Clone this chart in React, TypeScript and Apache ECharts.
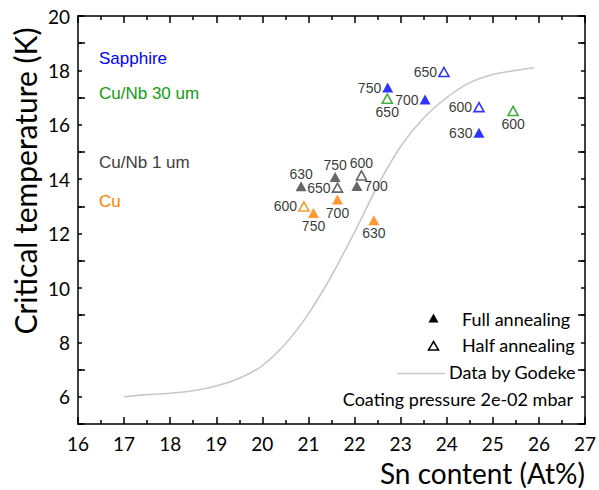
import React, { useEffect, useRef } from "react";
import * as echarts from "echarts";

// ---- Data ----
const xTicks = [16, 17, 18, 19, 20, 21, 22, 23, 24, 25, 26, 27];
const yTickLabels = [6, 8, 10, 12, 14, 16, 18, 20];

// Godeke reference curve (Sn at%, Tc K)
const godekeSn = [17.0, 17.5, 18.0, 18.5, 19.0, 19.5, 20.0, 20.5, 21.0, 21.5, 22.0, 22.5, 23.0, 23.5, 24.0, 24.5, 25.0, 25.5, 25.9];
const godekeTc = [6.0, 6.08, 6.13, 6.22, 6.4, 6.68, 7.15, 7.95, 9.05, 10.45, 12.05, 13.75, 15.2, 16.25, 17.0, 17.55, 17.85, 18.0, 18.1];

// Sapphire
const sapphireFullSn = [22.72, 23.53, 24.70];
const sapphireFullTc = [17.37, 16.93, 15.71];
const sapphireFullTemp = ["750", "700", "630"];
const sapphireHalfSn = [23.94, 24.70];
const sapphireHalfTc = [17.94, 16.65];
const sapphireHalfTemp = ["650", "600"];

// Cu/Nb 30 um
const cunb30HalfSn = [22.71, 25.44];
const cunb30HalfTc = [16.96, 16.51];
const cunb30HalfTemp = ["650", "600"];

// Cu/Nb 1 um
const cunb1FullSn = [20.84, 21.58, 22.05];
const cunb1FullTc = [13.74, 14.08, 13.75];
const cunb1FullTemp = ["630", "750", "700"];
const cunb1HalfSn = [21.63, 22.15];
const cunb1HalfTc = [13.69, 14.14];
const cunb1HalfTemp = ["650", "600"];

// Cu
const cuFullSn = [21.11, 21.63, 22.42];
const cuFullTc = [12.755, 13.25, 12.49];
const cuFullTemp = ["750", "700", "630"];
const cuHalfSn = [20.9];
const cuHalfTc = [13.0];
const cuHalfTemp = ["600"];

// label placement (style, kept separate)
const sapphireFullPos = ["left", "left", "left"];
const sapphireHalfPos = ["left", "left"];
const cunb30HalfPos = ["bottom", "bottom"];
const cunb1FullPos = ["top", "top", "right"];
const cunb1HalfPos = ["left", "top"];
const cuFullPos = ["bottom", "bottom", "bottom"];
const cuHalfPos = ["left"];

const BLUE = "#0000ff";
const GREEN = "#139b13";
const GRAY = "#404040";
const ORANGE = "#ff8000";

const LABEL_FONT = "'Liberation Sans', Arial, sans-serif";
const AXIS_FONT = "Lato, 'Open Sans', sans-serif";

function buildPoints(sn: number[], tc: number[], temp: string[], pos: string[]) {
  return sn.map((x, i) => ({
    value: [x, tc[i]],
    name: temp[i],
    label: { position: pos[i], distance: pos[i] === "top" ? 0 : pos[i] === "right" ? 2 : 1 },
  }));
}

function markerSeries(
  name: string,
  sn: number[],
  tc: number[],
  temp: string[],
  pos: string[],
  color: string,
  hollow: boolean
) {
  return {
    name,
    type: "scatter",
    xAxisIndex: 0,
    yAxisIndex: 0,
    symbol: "triangle",
    symbolSize: hollow ? [10, 9] : [11, 10],
    itemStyle: hollow
      ? { color: "#ffffff", borderColor: color, borderWidth: 1.6 }
      : { color: color, borderWidth: 0 },
    label: {
      show: true,
      formatter: "{b}",
      color: "#000",
      fontFamily: LABEL_FONT,
      fontSize: 14,
    },
    z: 5,
    data: buildPoints(sn, tc, temp, pos),
  };
}

export default function App() {
  const ref = useRef<HTMLDivElement>(null);

  useEffect(() => {
    if (!ref.current) return;
    const chart = echarts.init(ref.current, undefined, { renderer: "svg" });

    const axisLine = { show: true, lineStyle: { color: "#000", width: 1.5 } };

    const option: any = {
      animation: false,
      backgroundColor: "#ffffff",
      grid: { left: 78, right: 12, top: 16, bottom: 66, containLabel: false },
      xAxis: [
        {
          type: "value",
          position: "bottom",
          min: 16,
          max: 27,
          interval: 1,
          axisLine,
          axisTick: { show: true, inside: true, length: 7, lineStyle: { color: "#000", width: 1.5 } },
          minorTick: { show: true, splitNumber: 2, length: 4, lineStyle: { color: "#000", width: 1.5 } },
          splitLine: { show: false },
          minorSplitLine: { show: false },
          axisLabel: {
            show: true,
            margin: 10,
            color: "#000",
            fontFamily: AXIS_FONT,
            fontSize: 19,
            formatter: (v: number) => (xTicks.includes(v) ? String(v) : ""),
          },
        },
        {
          type: "value",
          position: "top",
          min: 16,
          max: 27,
          interval: 1,
          axisLine,
          axisTick: { show: true, inside: true, length: 7, lineStyle: { color: "#000", width: 1.5 } },
          minorTick: { show: true, splitNumber: 2, length: 4, lineStyle: { color: "#000", width: 1.5 } },
          splitLine: { show: false },
          axisLabel: { show: false },
        },
      ],
      yAxis: [
        {
          type: "value",
          position: "left",
          min: 5,
          max: 20,
          interval: 1,
          axisLine,
          axisTick: { show: true, inside: true, length: 4, lineStyle: { color: "#000", width: 1.5 } },
          splitLine: { show: false },
          axisLabel: {
            show: true,
            margin: 8,
            color: "#000",
            fontFamily: AXIS_FONT,
            fontSize: 19,
            formatter: (v: number) => (yTickLabels.includes(v) ? String(v) : ""),
          },
        },
        {
          type: "value",
          position: "left",
          min: 5,
          max: 20,
          interval: 2,
          axisLine: { show: false },
          axisTick: { show: true, inside: true, length: 7, lineStyle: { color: "#000", width: 1.5 } },
          splitLine: { show: false },
          axisLabel: { show: false },
        },
        {
          type: "value",
          position: "right",
          min: 5,
          max: 20,
          interval: 1,
          axisLine,
          axisTick: { show: true, inside: true, length: 4, lineStyle: { color: "#000", width: 1.5 } },
          splitLine: { show: false },
          axisLabel: { show: false },
        },
        {
          type: "value",
          position: "right",
          min: 5,
          max: 20,
          interval: 2,
          axisLine: { show: false },
          axisTick: { show: true, inside: true, length: 7, lineStyle: { color: "#000", width: 1.5 } },
          splitLine: { show: false },
          axisLabel: { show: false },
        },
      ],
      series: [
        {
          name: "Data by Godeke",
          type: "line",
          xAxisIndex: 0,
          yAxisIndex: 0,
          smooth: 0.3,
          showSymbol: false,
          symbol: "none",
          lineStyle: { color: "#c8c8c8", width: 1.6 },
          z: 2,
          data: godekeSn.map((x, i) => [x, godekeTc[i]]),
        },
        markerSeries("Sapphire full", sapphireFullSn, sapphireFullTc, sapphireFullTemp, sapphireFullPos, BLUE, false),
        markerSeries("Sapphire half", sapphireHalfSn, sapphireHalfTc, sapphireHalfTemp, sapphireHalfPos, BLUE, true),
        markerSeries("Cu/Nb 30 um half", cunb30HalfSn, cunb30HalfTc, cunb30HalfTemp, cunb30HalfPos, GREEN, true),
        markerSeries("Cu/Nb 1 um full", cunb1FullSn, cunb1FullTc, cunb1FullTemp, cunb1FullPos, GRAY, false),
        markerSeries("Cu/Nb 1 um half", cunb1HalfSn, cunb1HalfTc, cunb1HalfTemp, cunb1HalfPos, GRAY, true),
        markerSeries("Cu full", cuFullSn, cuFullTc, cuFullTemp, cuFullPos, ORANGE, false),
        markerSeries("Cu half", cuHalfSn, cuHalfTc, cuHalfTemp, cuHalfPos, ORANGE, true),
      ],
      graphic: [
        // group annotations
        { type: "text", left: 99, top: 50, style: { text: "Sapphire", fill: BLUE, font: `17px ${LABEL_FONT}` } },
        { type: "text", left: 99, top: 85, style: { text: "Cu/Nb 30 um", fill: GREEN, font: `17px ${LABEL_FONT}` } },
        { type: "text", left: 99, top: 154, style: { text: "Cu/Nb 1 um", fill: GRAY, font: `17px ${LABEL_FONT}` } },
        { type: "text", left: 99, top: 193, style: { text: "Cu", fill: ORANGE, font: `17px ${LABEL_FONT}` } },
        // legend
        { type: "polygon", shape: { points: [[433.5, 313.5], [438.5, 322.5], [428.5, 322.5]] }, style: { fill: "#000" } },
        { type: "text", left: 462, top: 310, style: { text: "Full annealing", fill: "#000", font: `18px ${AXIS_FONT}` } },
        {
          type: "polygon",
          shape: { points: [[433.5, 341.5], [438.5, 350], [428.5, 350]] },
          style: { fill: "#fff", stroke: "#000", lineWidth: 1.5 },
        },
        { type: "text", left: 462, top: 336, style: { text: "Half annealing", fill: "#000", font: `18px ${AXIS_FONT}` } },
        { type: "line", shape: { x1: 397, y1: 373.5, x2: 445, y2: 373.5 }, style: { stroke: "#c8c8c8", lineWidth: 1.6 } },
        { type: "text", left: 449, top: 363, style: { text: "Data by Godeke", fill: "#000", font: `18px ${AXIS_FONT}` } },
        {
          type: "text",
          x: 573,
          y: 399,
          style: { text: "Coating pressure 2e-02 mbar", fill: "#000", font: `18px ${AXIS_FONT}`, textAlign: "right", textVerticalAlign: "middle" },
        },
        // axis titles
        {
          type: "text",
          x: 585,
          y: 473,
          style: { text: "Sn content (At%)", fill: "#000", font: `28px ${AXIS_FONT}`, textAlign: "right", textVerticalAlign: "middle" },
        },
        {
          type: "text",
          x: 25,
          y: 181,
          rotation: Math.PI / 2,
          style: { text: "Critical temperature (K)", fill: "#000", font: `30px ${AXIS_FONT}`, textAlign: "center", textVerticalAlign: "middle" },
        },
      ],
    };

    chart.setOption(option);
    return () => chart.dispose();
  }, []);

  return <div ref={ref} style={{ width: 599, height: 490, position: "absolute", left: 0, top: 0 }} />;
}
